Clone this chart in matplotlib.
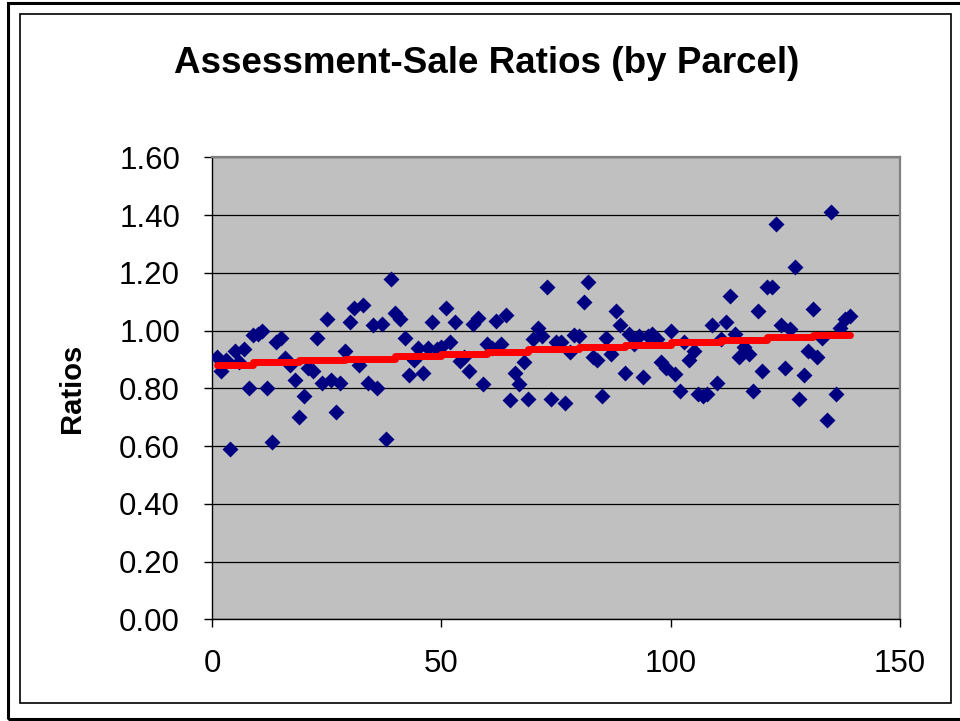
import matplotlib
matplotlib.use('Agg')
import matplotlib.pyplot as plt
from matplotlib.patches import Rectangle
import numpy as np

plt.rcParams['font.family'] = ['Liberation Sans', 'DejaVu Sans']

# Ratios per parcel (parcel 1..139)
ratios = [
    0.91, 0.86, 0.90, 0.59, 0.93, 0.89, 0.935, 0.80, 0.985, 0.99,
    1.00, 0.80, 0.615, 0.96, 0.975, 0.905, 0.88, 0.83, 0.70, 0.775,
    0.87, 0.86, 0.975, 0.82, 1.04, 0.83, 0.72, 0.82, 0.93, 1.03,
    1.08, 0.88, 1.09, 0.82, 1.02, 0.80, 1.025, 0.625, 1.18, 1.06,
    1.04, 0.975, 0.845, 0.90, 0.94, 0.855, 0.94, 1.03, 0.935, 0.945,
    1.08, 0.96, 1.03, 0.895, 0.91, 0.86, 1.025, 1.045, 0.815, 0.955,
    0.94, 1.035, 0.955, 1.055, 0.76, 0.855, 0.815, 0.89, 0.765, 0.97,
    1.01, 0.98, 1.15, 0.765, 0.96, 0.96, 0.75, 0.925, 0.985, 0.98,
    1.10, 1.17, 0.91, 0.90, 0.775, 0.975, 0.92, 1.07, 1.02, 0.855,
    0.99, 0.955, 0.98, 0.84, 0.98, 0.99, 0.97, 0.89, 0.87, 1.00,
    0.85, 0.79, 0.96, 0.90, 0.93, 0.78, 0.775, 0.78, 1.02, 0.82,
    0.97, 1.03, 1.12, 0.99, 0.91, 0.945, 0.92, 0.79, 1.07, 0.86,
    1.15, 1.15, 1.37, 1.02, 0.87, 1.005, 1.22, 0.765, 0.845, 0.93,
    1.075, 0.91, 0.975, 0.69, 1.41, 0.78, 1.01, 1.04, 1.05,
]
parcels = np.arange(1, len(ratios) + 1)

# red trend line: step levels and the parcel where each level starts
trend_start = [1, 9, 19, 29, 40, 50, 60, 69, 80, 90, 100, 111, 121, 131, 139]
trend_level = [0.881, 0.89, 0.897, 0.903, 0.912, 0.92, 0.927, 0.936,
               0.945, 0.951, 0.96, 0.969, 0.977, 0.984, 0.984]

x_ticks = [0, 50, 100, 150]
y_ticks = [0.0, 0.2, 0.4, 0.6, 0.8, 1.0, 1.2, 1.4, 1.6]

fig = plt.figure(figsize=(9.6, 7.21), dpi=100)
fig.patch.set_facecolor('white')

# frames around the chart
fig.patches.append(Rectangle((0.0083, 0.0028), 1.0, 0.993, transform=fig.transFigure,
                             fill=False, edgecolor='black', linewidth=2.2))
fig.patches.append(Rectangle((0.0208, 0.025), 0.9698, 0.9556, transform=fig.transFigure,
                             fill=False, edgecolor='black', linewidth=1.2))

ax = fig.add_axes([0.2208, 0.1408, 0.7167, 0.6408])
ax.set_facecolor('#C0C0C0')

ax.scatter(parcels, ratios, marker='D', s=66, color='#000080', linewidths=0, zorder=3)
ax.plot(trend_start, trend_level, drawstyle='steps-post', color='#FF0000',
        linewidth=5, solid_capstyle='round', solid_joinstyle='round', zorder=4)

ax.set_xlim(0, 150)
ax.set_ylim(0, 1.6)
ax.set_xticks(x_ticks)
ax.set_yticks(y_ticks)
ax.set_yticklabels([f"{v:.2f}" for v in y_ticks])
ax.grid(True, axis='y', color='black', linewidth=0.9, zorder=1)
ax.set_axisbelow(True)

ax.tick_params(direction='out', length=6, width=1, labelsize=22.5, color='black')
ax.tick_params(axis='y', pad=17)
ax.tick_params(axis='x', pad=15)

for side in ['left', 'bottom']:
    ax.spines[side].set_color('black')
    ax.spines[side].set_linewidth(1)
for side in ['top', 'right']:
    ax.spines[side].set_color('#808080')
    ax.spines[side].set_linewidth(1.6)

ax.set_ylabel("Ratios", fontsize=21, fontweight='bold')
ax.yaxis.set_label_coords(-0.183, 0.5)

fig.text(0.507, 0.9126, "Assessment-Sale Ratios (by Parcel)", fontsize=26.5,
         fontweight='bold', ha='center', va='center')

plt.savefig('out.png', dpi=100)
plt.close()
